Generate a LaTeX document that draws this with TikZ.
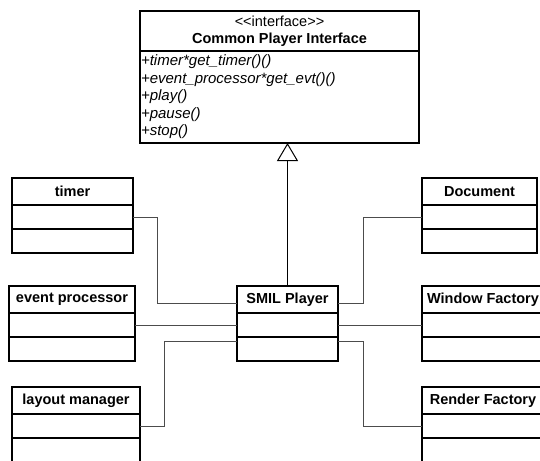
\documentclass[tikz,border=0pt]{standalone}
\usepackage{fontspec}
\setmainfont{Liberation Sans}
\usetikzlibrary{positioning,arrows.meta}

\tikzset{
	hd/.style = {draw, line width=1.2pt, outer sep=0pt, inner sep=0pt, anchor=north,
		minimum height=27pt, font=\fontsize{14.5}{17}\selectfont\bfseries},
	cmp/.style = {draw, line width=1.2pt, outer sep=0pt, inner sep=0pt, minimum height=24pt},
	link/.style = {draw=black!70, line width=1pt}
}

\begin{document}
\begin{tikzpicture}[x=1pt, y=-1pt]
\useasboundingbox (0,0) rectangle (540,460);
\clip (0,0) rectangle (540,460);

\node[hd, minimum width=279pt, minimum height=40pt, align=center] (iface) at (279.5,11)
	{{\mdseries {<}{<}interface{>}{>}}\\Common Player Interface};
\node[cmp, below=0pt of iface, minimum width=279pt, minimum height=92pt, text width=277pt,
	inner xsep=1pt, align=left, font=\fontsize{15}{17.5}\selectfont\itshape] (iface-b)
	{+timer*get\_timer()()\\+event\_processor*get\_evt()()\\+play()\\+pause()\\+stop()};

\foreach \nm/\cx/\cy/\w/\ttl in {timer/72.5/178/121/timer, evt/72/286/126/event processor,
		layout/76/387/128/layout manager, smil/287.5/286/101/SMIL Player,
		doc/479.5/178/115/Document, win/483/286/122/Window Factory,
		render/483/387/122/Render Factory}
{
	\node[hd, minimum width=\w pt] (\nm) at (\cx,\cy) {\ttl};
	\node[cmp, minimum width=\w pt, below=0pt of \nm] (\nm-a) {};
	\node[cmp, minimum width=\w pt, below=0pt of \nm-a] (\nm-b) {};
}

\draw[link] (timer-a.east) -- ++(24,0) |- ([yshift=-3.5pt]smil.west);
\draw[link] (evt-a.east) -- (smil-a.west);
\draw[link] (layout-a.east) -- ++(24,0) |- ([yshift=7.5pt]smil-b.west);
\draw[link] (doc-a.west) -- ++(-59,0) |- ([yshift=-3.5pt]smil.east);
\draw[link] (smil-a.east) -- (win-a.west);
\draw[link] (render-a.west) -- ++(-59,0) |- ([yshift=7.5pt]smil-b.east);

\draw[line width=1pt, -{Triangle[open, width=21pt, length=18pt]}] (smil.north) -- (smil.north |- iface-b.south);
\end{tikzpicture}
\end{document}
